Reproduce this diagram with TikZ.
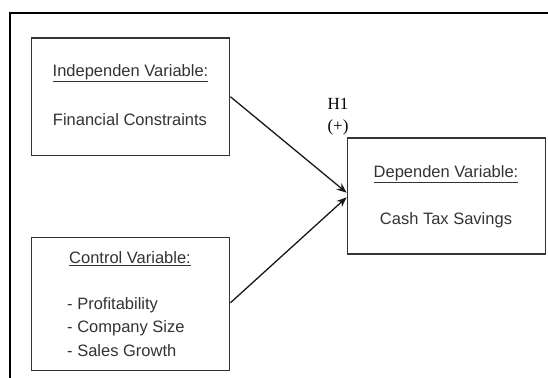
\documentclass[tikz,border=0pt]{standalone}
\usepackage{fontspec}
\setmainfont{Liberation Sans}
\newfontfamily\serifH{Liberation Serif}
\usetikzlibrary{arrows.meta}
\definecolor{boxline}{HTML}{333333}
\definecolor{txt}{HTML}{333333}
\begin{document}
\begin{tikzpicture}[x=1pt,y=-1pt,
  varbox/.style={draw=boxline,line width=1.4pt,fill=none},
  lbl/.style={text=txt,font=\fontsize{16.5}{23.5}\selectfont,inner sep=0pt},
  hyp/.style={font=\serifH\fontsize{17}{19}\selectfont,inner sep=0pt},
  conn/.style={line width=1.3pt,draw=black!90,-{Stealth[length=10pt,width=8pt]}}]
\clip (0,0) rectangle (548,377);
\fill[white] (0,0) rectangle (548,377);
% outer frame
\draw[line width=2pt] (9.5,420) -- (9.5,13.5) -- (600,13.5);
% boxes
\node[varbox,minimum width=198pt,minimum height=117pt,inner sep=0pt] (b1) at (130.7,96.7) {};
\node[varbox,minimum width=198pt,minimum height=133pt,inner sep=0pt] (b2) at (130.7,303.8) {};
\node[varbox,minimum width=198pt,minimum height=116pt,inner sep=0pt] (dep) at (446.3,196) {};
% texts
\node[lbl] (t1a) at (130.5,73.3) {\underline{Independen Variable:}};
\node[lbl] (t1b) at (130,120) {Financial Constraints};
\node[lbl] (t2a) at (130,258.3) {\underline{Control Variable:}};
\node[lbl,anchor=west,align=left] (t2b) at (67,326.7) {- Profitability\\- Company Size\\- Sales Growth};
\node[lbl] (t3a) at (446,174) {\underline{Dependen Variable:}};
\node[lbl] (t3b) at (446,220) {Cash Tax Savings};
\node[hyp] (h1) at (338,104) {H1};
\node[hyp] (h1s) at (338,127) {(+)};
% connectors
\draw[conn] (b1.east) -- ([yshift=3.3pt]dep.west);
\draw[conn] ([yshift=1pt]b2.east) -- ([yshift=-1.3pt]dep.west);
\end{tikzpicture}
\end{document}
